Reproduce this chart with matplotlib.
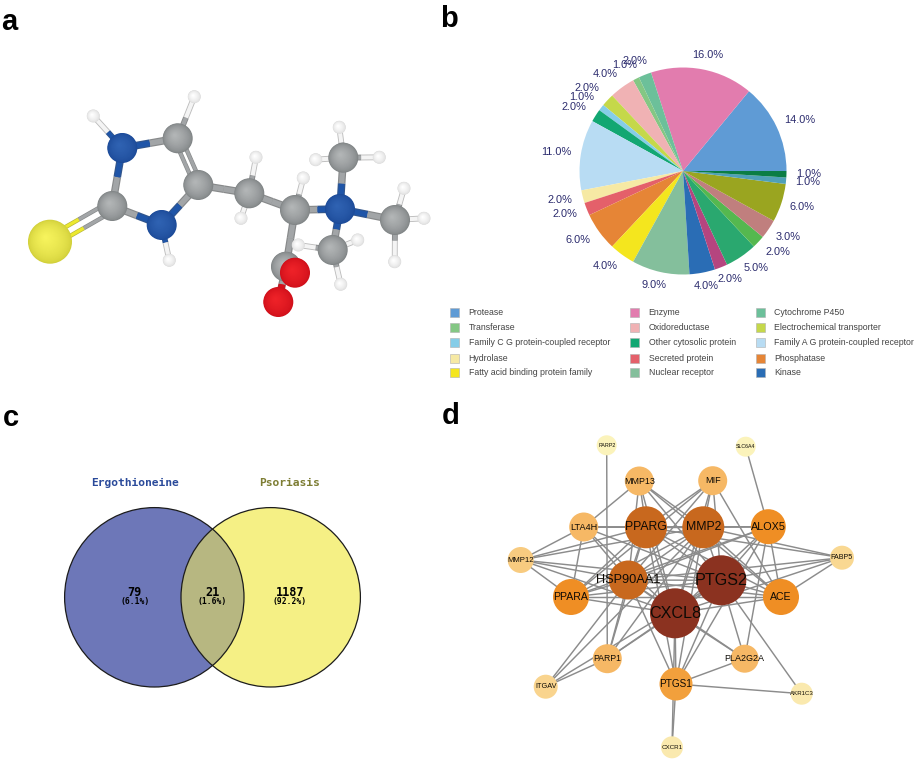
import matplotlib
matplotlib.use("Agg")
import matplotlib.pyplot as plt
from matplotlib.patches import Circle, Rectangle

plt.rcParams['font.family'] = ['Liberation Sans', 'DejaVu Sans']

# panel b
pie_values = [14, 16, 2, 1, 4, 2, 1, 2, 11, 2, 2, 6, 4, 9, 4, 2, 5, 2, 3, 6, 1, 1]
pie_colors = ['#5f9bd5', '#e27cae', '#6cc09a', '#84c784', '#f0b2b4', '#c5d84a',
              '#85cde8', '#12a772', '#b8dcf3', '#f6e9a4', '#e4606a', '#e68536',
              '#f4e61e', '#84bf9c', '#2a6db5', '#b5457f', '#2aa86f', '#55b84f',
              '#c07f7e', '#9aa520', '#4fa0b8', '#0b7d45']
pie_label_x = [800, 708, 634.7, 624.3, 605, 587, 581.3, 574.3, 556, 560.3, 564.7,
               578.3, 605, 654.3, 706.3, 730.3, 755.7, 777.7, 788.3, 802.3, 808, 808.3]
pie_label_y = [120, 55, 60.7, 65.3, 74, 88.3, 97.3, 106.7, 151.7, 200, 213.7,
               240, 266, 285, 285.7, 279.3, 267.7, 252.3, 237, 206.7, 181.7, 174]
legend_names = ['Protease', 'Enzyme', 'Cytochrome P450',
                'Transferase', 'Oxidoreductase', 'Electrochemical transporter',
                'Family C G protein-coupled receptor', 'Other cytosolic protein',
                'Family A G protein-coupled receptor',
                'Hydrolase', 'Secreted protein', 'Phosphatase',
                'Fatty acid binding protein family', 'Nuclear receptor', 'Kinase']
legend_colors = ['#5f9bd5', '#e27cae', '#6cc09a', '#84c784', '#f0b2b4', '#c5d84a',
                 '#85cde8', '#12a772', '#b8dcf3', '#f6e9a4', '#e4606a', '#e68536',
                 '#f4e61e', '#84bf9c', '#2a6db5']

# panel c
venn_counts = ['79', '21', '1187']
venn_percents = ['(6.1%)', '(1.6%)', '(92.2%)']
venn_names = ['Ergothioneine', 'Psoriasis']

# panel d
node_names = ['PARP2', 'SLC6A4', 'MMP13', 'MIF', 'LTA4H', 'PPARG', 'MMP2', 'ALOX5',
              'MMP12', 'FABP5', 'HSP90AA1', 'PTGS2', 'PPARA', 'ACE', 'CXCL8',
              'PARP1', 'PLA2G2A', 'ITGAV', 'PTGS1', 'AKR1C3', 'CXCR1']
node_x = [606.7, 745.7, 639.3, 712.7, 583.7, 646, 703.3, 768.3, 520.7, 842, 628.3,
          721.3, 571, 781, 675, 607.3, 744.7, 545.7, 676, 801.7, 672]
node_y = [445.3, 446.7, 481, 480.7, 527, 527.3, 527.3, 526.7, 560, 557.7, 580,
          580.3, 597, 597, 613.3, 658.7, 658.7, 686.7, 684, 693.7, 747.3]
node_r = [10, 10, 14.5, 14.5, 14.5, 21, 21, 17.5, 13, 12, 19.5, 25, 18, 18, 25,
          14.5, 14, 12, 16.5, 11, 11]
node_colors = ['#fbf3bb', '#fbf3bb', '#f6b865', '#f6b865', '#f6b865', '#c8681e',
               '#c8681e', '#ef8e24', '#f8cb80', '#f9d892', '#c8681e', '#8b3220',
               '#ef8e24', '#ef8e24', '#8b3220', '#f6b865', '#f6b865', '#f9d48e',
               '#f2a03c', '#fae9ae', '#fae9ae']
node_fonts = [3.9, 3.8, 6.4, 6.6, 6.6, 8.8, 8.8, 7.8, 5.6, 5.1, 9.2, 11.6, 7.6, 7.6,
              11.6, 6.2, 6.5, 5.3, 7.2, 4.4, 4.5]
edges = [('PARP2', 'PARP1'), ('SLC6A4', 'ALOX5'),
         ('MMP13', 'LTA4H'), ('MMP13', 'PPARG'), ('MMP13', 'MMP2'), ('MMP13', 'HSP90AA1'),
         ('MMP13', 'PTGS2'), ('MMP13', 'CXCL8'), ('MMP13', 'ACE'),
         ('MIF', 'PPARG'), ('MIF', 'MMP2'), ('MIF', 'HSP90AA1'), ('MIF', 'PTGS2'),
         ('MIF', 'CXCL8'), ('MIF', 'ACE'), ('MIF', 'PPARA'),
         ('LTA4H', 'MMP12'), ('LTA4H', 'PPARG'), ('LTA4H', 'MMP2'), ('LTA4H', 'ALOX5'),
         ('LTA4H', 'HSP90AA1'), ('LTA4H', 'PTGS2'), ('LTA4H', 'CXCL8'), ('LTA4H', 'PPARA'),
         ('PPARG', 'MMP2'), ('PPARG', 'ALOX5'), ('PPARG', 'MMP12'),
         ('PPARG', 'HSP90AA1'), ('PPARG', 'PTGS2'), ('PPARG', 'PPARA'), ('PPARG', 'ACE'),
         ('PPARG', 'CXCL8'), ('PPARG', 'PARP1'), ('PPARG', 'PTGS1'), ('PPARG', 'FABP5'),
         ('MMP2', 'ALOX5'), ('MMP2', 'MMP12'), ('MMP2', 'HSP90AA1'), ('MMP2', 'PTGS2'),
         ('MMP2', 'PPARA'), ('MMP2', 'ACE'), ('MMP2', 'CXCL8'), ('MMP2', 'PTGS1'),
         ('MMP2', 'PARP1'), ('MMP2', 'ITGAV'), ('MMP2', 'FABP5'),
         ('ALOX5', 'HSP90AA1'), ('ALOX5', 'PTGS2'), ('ALOX5', 'PPARA'), ('ALOX5', 'ACE'),
         ('ALOX5', 'CXCL8'), ('ALOX5', 'PTGS1'), ('ALOX5', 'PLA2G2A'),
         ('MMP12', 'HSP90AA1'), ('MMP12', 'PTGS2'), ('MMP12', 'PPARA'), ('MMP12', 'CXCL8'),
         ('FABP5', 'PTGS2'), ('FABP5', 'ACE'), ('FABP5', 'CXCL8'), ('FABP5', 'HSP90AA1'),
         ('HSP90AA1', 'PTGS2'), ('HSP90AA1', 'PPARA'), ('HSP90AA1', 'ACE'),
         ('HSP90AA1', 'CXCL8'), ('HSP90AA1', 'PARP1'), ('HSP90AA1', 'PTGS1'),
         ('HSP90AA1', 'ITGAV'), ('HSP90AA1', 'PLA2G2A'),
         ('PTGS2', 'PPARA'), ('PTGS2', 'ACE'), ('PTGS2', 'CXCL8'), ('PTGS2', 'PARP1'),
         ('PTGS2', 'PTGS1'), ('PTGS2', 'PLA2G2A'), ('PTGS2', 'AKR1C3'), ('PTGS2', 'ITGAV'),
         ('PPARA', 'ACE'), ('PPARA', 'CXCL8'), ('ACE', 'CXCL8'),
         ('CXCL8', 'PARP1'), ('CXCL8', 'PTGS1'), ('CXCL8', 'PLA2G2A'), ('CXCL8', 'CXCR1'),
         ('PARP1', 'ITGAV'), ('PTGS1', 'PLA2G2A'), ('PTGS1', 'AKR1C3'), ('PTGS1', 'CXCR1')]

# panel a, the molecule
atom_x = [50, 112.3, 122.3, 161.7, 177.7, 198.3, 249.3, 295, 340, 343.3, 395, 332.7,
          286, 295, 278.3, 93.3, 194.3, 169.3, 256, 241, 303.3, 339.3, 315.7, 379.3,
          404, 424, 394.7, 340.7, 357.7, 298.3]
atom_y = [241.7, 206, 148, 225, 138.3, 185, 193.3, 210, 209, 157.7, 220, 250,
          266.7, 272.7, 302, 116, 96.7, 260.3, 157.3, 218.3, 178, 127.3, 159.7, 157.3,
          188.3, 218.3, 261.7, 284.3, 240, 245]
atom_kind = ['S', 'C', 'N', 'N', 'C', 'C', 'C', 'C', 'N', 'C', 'C', 'C', 'C', 'O', 'O',
             'H', 'H', 'H', 'H', 'H', 'H', 'H', 'H', 'H', 'H', 'H', 'H', 'H', 'H', 'H']
bonds = [(1, 2), (1, 3), (2, 4), (3, 5), (4, 5), (5, 6), (6, 7), (7, 8), (8, 9), (8, 10),
         (8, 11), (7, 12), (12, 13), (12, 14), (2, 15), (4, 16), (3, 17), (6, 18), (6, 19),
         (7, 20), (9, 21), (9, 22), (9, 23), (10, 24), (10, 25), (10, 26), (11, 27),
         (11, 28), (11, 29)]
atom_base = {'S': '#d2d03a', 'C': '#7f8385', 'N': '#1c4a98', 'O': '#cf0f1a', 'H': '#dcdcdc'}
atom_light = {'S': '#f6f35c', 'C': '#b2b5b6', 'N': '#2f62b2', 'O': '#ee2228', 'H': '#ffffff'}
atom_size = {'S': 22, 'C': 15, 'N': 15, 'O': 15, 'H': 6.5}
bond_color = {'S': '#ece92e', 'C': '#a2a5a7', 'N': '#1f55a8', 'O': '#d8101c', 'H': '#f4f4f4'}

fig = plt.figure(figsize=(9.2, 7.65), dpi=100)
ax = fig.add_axes([0, 0, 1, 1])
ax.set_xlim(0, 920)
ax.set_ylim(765, 0)
ax.axis('off')


def mix(c1, c2, t):
    a = matplotlib.colors.to_rgb(c1)
    b = matplotlib.colors.to_rgb(c2)
    return tuple(a[i] + (b[i] - a[i]) * t for i in range(3))


def half_bond(x1, y1, x2, y2, c, lw, z=2):
    ax.plot([x1, x2], [y1, y2], color=mix(c, '#555555', 0.35), lw=lw, solid_capstyle='butt', zorder=z)
    ax.plot([x1, x2], [y1, y2], color=c, lw=lw * 0.7, solid_capstyle='butt', zorder=z)


def draw_bond(i, j, off=0):
    x1, y1, x2, y2 = atom_x[i], atom_y[i], atom_x[j], atom_y[j]
    dx, dy = x2 - x1, y2 - y1
    n = (dx ** 2 + dy ** 2) ** 0.5
    ox, oy = -dy / n * off, dx / n * off
    mx, my = (x1 + x2) / 2, (y1 + y2) / 2
    lw = 4.2 if 'H' in (atom_kind[i], atom_kind[j]) else 5.5
    if off:
        lw = 3.2
    half_bond(x1 + ox, y1 + oy, mx + ox, my + oy, bond_color[atom_kind[i]], lw)
    half_bond(mx + ox, my + oy, x2 + ox, y2 + oy, bond_color[atom_kind[j]], lw)


def sphere(x, y, r, kind, z):
    layers = 24
    for k in range(layers):
        t = k / (layers - 1)
        rr = r * (1 - 0.9 * t)
        shift = r * 0.2 * t
        ax.add_patch(Circle((x - shift, y - shift), rr, fc=mix(atom_base[kind], atom_light[kind], t ** 0.6),
                            ec='none', zorder=z))


# molecule
for i, j in bonds:
    if (i, j) == (4, 5):
        draw_bond(i, j, off=3.5)
        draw_bond(i, j, off=-3.5)
    else:
        draw_bond(i, j)
draw_bond(1, 0, off=5)
draw_bond(1, 0, off=-5)
order = sorted(range(len(atom_x)), key=lambda a: (a in (13, 14), a))
for n, a in enumerate(order):
    k = atom_kind[a]
    r = atom_size[k]
    sphere(atom_x[a], atom_y[a], r, k, 3 + n)

# pie
cx, cy, rad = 683, 171, 103.5
pax = fig.add_axes([(cx - rad) / 920, (765 - cy - rad) / 765, 2 * rad / 920, 2 * rad / 765])
pax.pie(pie_values, colors=pie_colors, startangle=0, counterclock=True, radius=1)
pax.set_xlim(-1, 1)
pax.set_ylim(-1, 1)
for v, x, y in zip(pie_values, pie_label_x, pie_label_y):
    ax.text(x, y, '%.1f%%' % v, color='#2c2c6e', fontsize=7.9, ha='center', va='center')

legend_col_x = [455, 635, 760.7]
legend_row_y = [312.7, 327, 342, 358, 372.7]
for n, (name, col) in enumerate(zip(legend_names, legend_colors)):
    row, c = divmod(n, 3)
    ax.add_patch(Rectangle((legend_col_x[c] - 4.5, legend_row_y[row] - 4.5), 9, 9, fc=col,
                           ec='#b0b0b0', lw=0.4))
    ax.text(legend_col_x[c] + 13.7, legend_row_y[row], name, color='#444444', fontsize=6.3,
            ha='left', va='center')

# venn
left = Circle((154.3, 597.3), 89.7, fc='#6d77b8', ec='none', zorder=2)
right = Circle((270.7, 597.3), 89.7, fc='#f5f085', ec='none', zorder=2)
ax.add_patch(left)
ax.add_patch(right)
both = Circle((154.3, 597.3), 89.7, fc='#b7b781', ec='none', zorder=3)
ax.add_patch(both)
both.set_clip_path(Circle((270.7, 597.3), 89.7, transform=ax.transData))
for c in [(154.3, 597.3), (270.7, 597.3)]:
    ax.add_patch(Circle(c, 89.7, fc='none', ec='#1c1c1c', lw=0.9, zorder=4))
ax.text(134.7, 482.5, venn_names[0], family='DejaVu Sans Mono', weight='bold', fontsize=8.1,
        color='#2a4a9a', ha='center', va='center')
ax.text(290, 482.5, venn_names[1], family='DejaVu Sans Mono', weight='bold', fontsize=8.1,
        color='#7d7d33', ha='center', va='center')
for x, count, pct in zip([134.7, 212.5, 290], venn_counts, venn_percents):
    ax.text(x, 592, count, family='DejaVu Sans Mono', weight='bold', fontsize=8.6,
            ha='center', va='center', color='black', zorder=5)
    ax.text(x, 601.5, pct, family='DejaVu Sans Mono', weight='bold', fontsize=5.8,
            ha='center', va='center', color='black', zorder=5)

# network
pos = {n: (x, y) for n, x, y in zip(node_names, node_x, node_y)}
for a, b in edges:
    ax.plot([pos[a][0], pos[b][0]], [pos[a][1], pos[b][1]], color='#8c8c8c', lw=1.05, zorder=2)
for n, x, y, r, c, fs in zip(node_names, node_x, node_y, node_r, node_colors, node_fonts):
    ax.add_patch(Circle((x, y), r, fc=c, ec='none', zorder=3))
    ax.text(x, y, n, fontsize=fs, color='#0d0a05', ha='center', va='center', zorder=4)

# panel letters
for s, x, y in [('a', 9, 22), ('b', 449, 19), ('c', 11, 418), ('d', 451, 416)]:
    ax.text(x, y, s, fontsize=21, weight='bold', color='black', ha='center', va='center')

fig.savefig('out.png', dpi=100)
